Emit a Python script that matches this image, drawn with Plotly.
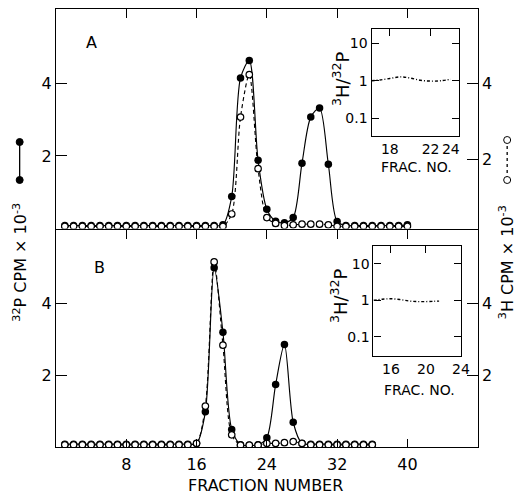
import plotly.graph_objects as go

W, H = 526, 496

# ---- data -------------------------------------------------------------
# Panel A: fractions 1..40
frac_a = list(range(1, 41))
p32_a = [0.08, 0.08, 0.08, 0.08, 0.08, 0.08, 0.08, 0.08, 0.08, 0.08,
         0.08, 0.08, 0.08, 0.08, 0.08, 0.08, 0.08, 0.08, 0.10, 0.88,
         4.15, 4.63, 1.88, 0.53, 0.20, 0.16, 0.30, 1.80, 3.07, 3.32,
         1.77, 0.19, 0.08, 0.08, 0.08, 0.08, 0.08, 0.08, 0.08, 0.10]
h3_a = [0.06, 0.06, 0.06, 0.06, 0.06, 0.06, 0.06, 0.06, 0.06, 0.06,
        0.06, 0.06, 0.06, 0.06, 0.06, 0.06, 0.06, 0.06, 0.06, 0.40,
        3.07, 4.24, 1.65, 0.30, 0.14, 0.08, 0.10, 0.12, 0.12, 0.12,
        0.10, 0.06, 0.06, 0.06, 0.06, 0.06, 0.06, 0.06, 0.06, 0.06]

# Panel B: fractions 1..36
frac_b = list(range(1, 37))
p32_b = [0.08, 0.08, 0.08, 0.08, 0.08, 0.08, 0.08, 0.08, 0.08, 0.08,
         0.08, 0.08, 0.08, 0.08, 0.08, 0.10, 0.98, 5.00, 3.20, 0.49,
         0.06, 0.05, 0.06, 0.26, 1.74, 2.86, 0.69, 0.10, 0.08, 0.08,
         0.08, 0.08, 0.08, 0.08, 0.08, 0.08]
h3_b = [0.06, 0.06, 0.06, 0.06, 0.06, 0.06, 0.06, 0.06, 0.06, 0.06,
        0.06, 0.06, 0.06, 0.06, 0.06, 0.10, 1.14, 5.16, 2.84, 0.34,
        0.05, 0.05, 0.05, 0.10, 0.10, 0.12, 0.15, 0.10, 0.06, 0.06,
        0.06, 0.06, 0.06, 0.06, 0.06, 0.06]

# Insets: 3H/32P ratio across the peak fractions
ratio_frac_a = [16.2, 17, 18, 19, 20, 21, 22, 23, 24]
ratio_a = [1.0, 1.05, 1.15, 1.27, 1.18, 1.03, 0.98, 1.0, 1.1]
ratio_frac_b = [14, 15, 16, 17, 18, 19, 20, 21, 21.5]
ratio_b = [1.0, 1.07, 1.1, 1.05, 0.96, 0.92, 0.92, 0.94, 0.95]

main_ticks = [8, 16, 24, 32, 40]
cpm_ticks = [2, 4]
inset_ticks_a = [18, 22, 24]
inset_ticks_b = [16, 20, 24]
ratio_ticks = [0.1, 1, 10]
ratio_labels = ["0.1", "1", "10"]

# ---- helpers ----------------------------------------------------------
def px(x):
    return x / W

def py(y):
    return 1 - y / H

FONT = "DejaVu Sans"
INK = "black"
LW = 1.3

fig = go.Figure()

def p32_trace(x, y, xa, ya):
    return go.Scatter(
        x=x, y=y, xaxis=xa, yaxis=ya, mode="lines+markers",
        line=dict(color=INK, width=1.15, shape="spline", smoothing=0.8),
        marker=dict(symbol="circle", size=7.5, color=INK),
        hoverinfo="skip", showlegend=False)

def h3_trace(x, y, xa, ya):
    return go.Scatter(
        x=x, y=y, xaxis=xa, yaxis=ya, mode="lines+markers",
        line=dict(color=INK, width=1.15, dash="4px,3px", shape="spline", smoothing=0.8),
        marker=dict(symbol="circle", size=6.5, color="white",
                    line=dict(color=INK, width=1.2)),
        hoverinfo="skip", showlegend=False)

def ratio_trace(x, y, xa, ya):
    return go.Scatter(
        x=x, y=y, xaxis=xa, yaxis=ya, mode="lines",
        line=dict(color=INK, width=1.4, dash="3px,2px,1px,2px", shape="spline"),
        hoverinfo="skip", showlegend=False)

def blank(xa, ya):
    return go.Scatter(x=[], y=[], xaxis=xa, yaxis=ya, showlegend=False,
                      hoverinfo="skip")

# panel A
fig.add_trace(p32_trace(frac_a, p32_a, "x", "y"))
fig.add_trace(h3_trace(frac_a, h3_a, "x", "y"))
fig.add_trace(blank("x2", "y2"))
# panel B
fig.add_trace(p32_trace(frac_b, p32_b, "x3", "y3"))
fig.add_trace(h3_trace(frac_b, h3_b, "x3", "y3"))
fig.add_trace(blank("x4", "y4"))
# insets
fig.add_trace(ratio_trace(ratio_frac_a, ratio_a, "x5", "y5"))
fig.add_trace(blank("x6", "y5"))
fig.add_trace(ratio_trace(ratio_frac_b, ratio_b, "x7", "y6"))
fig.add_trace(blank("x8", "y6"))

xdom = [px(57), px(486)]
ydom_a = [py(228.5), py(9)]
ydom_b = [py(447), py(230)]
tickfont = dict(family=FONT, size=16, color=INK)
small_font = dict(family=FONT, size=14, color=INK)

base_axis = dict(showgrid=False, zeroline=False, showline=True,
                 linecolor=INK, linewidth=LW, tickcolor=INK, tickwidth=LW,
                 fixedrange=True)

fig.update_layout(
    xaxis=dict(**base_axis, domain=xdom, range=[0, 48], anchor="y",
               tickvals=main_ticks, ticks="outside", ticklen=9,
               showticklabels=False),
    xaxis2=dict(**base_axis, overlaying="x", side="top", range=[0, 48],
                anchor="y", tickvals=main_ticks, ticks="inside", ticklen=9,
                showticklabels=False),
    yaxis=dict(**base_axis, domain=ydom_a, range=[0, 6.05], anchor="x",
               tickvals=cpm_ticks, ticks="inside", ticklen=11,
               tickfont=tickfont),
    yaxis2=dict(**base_axis, overlaying="y", side="right", range=[0.17, 5.95],
                anchor="x", tickvals=cpm_ticks, ticks="inside", ticklen=11,
                tickfont=tickfont),
    xaxis3=dict(**base_axis, domain=xdom, range=[0, 48], anchor="y3",
                tickvals=main_ticks, ticks="inside", ticklen=8,
                tickfont=tickfont, mirror=True, ticklabelstandoff=3),
    xaxis4=dict(**base_axis, overlaying="x3", side="top", range=[0, 48],
                anchor="y3", ticks="", showticklabels=False),
    yaxis3=dict(**base_axis, domain=ydom_b, range=[0, 6.05], anchor="x3",
                tickvals=cpm_ticks, ticks="inside", ticklen=11,
                tickfont=tickfont),
    yaxis4=dict(**base_axis, overlaying="y3", side="right", range=[0, 6.05],
                anchor="x3", tickvals=cpm_ticks, ticks="inside", ticklen=11,
                tickfont=tickfont),
    # inset A
    xaxis5=dict(**base_axis, domain=[px(378), px(467)], range=[16.2, 24.8],
                anchor="y5", tickvals=inset_ticks_a, ticks="",
                tickfont=small_font),
    xaxis6=dict(**base_axis, overlaying="x5", side="top", range=[16.2, 24.8],
                anchor="y5", tickvals=[18, 22], ticks="inside", ticklen=7,
                showticklabels=False),
    yaxis5=dict(**base_axis, type="log", domain=[py(136), py(28.5)],
                range=[-1.48, 1.4], anchor="x5", tickvals=ratio_ticks,
                ticktext=ratio_labels, ticks="inside", ticklen=7,
                mirror="ticks", tickfont=small_font),
    # inset B
    xaxis7=dict(**base_axis, domain=[px(380), px(469)], range=[14, 24],
                anchor="y6", tickvals=inset_ticks_b, ticks="",
                tickfont=small_font),
    xaxis8=dict(**base_axis, overlaying="x7", side="top", range=[14, 24],
                anchor="y6", tickvals=[16, 20], ticks="inside", ticklen=7,
                showticklabels=False),
    yaxis6=dict(**base_axis, type="log", domain=[py(356), py(246)],
                range=[-1.53, 1.49], anchor="x7", tickvals=ratio_ticks,
                ticktext=ratio_labels, ticks="inside", ticklen=7,
                mirror="ticks", tickfont=small_font),
    width=W, height=H, margin=dict(l=0, r=0, t=0, b=0),
    paper_bgcolor="white", plot_bgcolor="rgba(0,0,0,0)",
    font=dict(family=FONT, color=INK),
)

# ---- text -------------------------------------------------------------
def label(text, x, y, size, angle=0):
    fig.add_annotation(text=text, x=px(x), y=py(y), xref="paper", yref="paper",
                       showarrow=False, textangle=angle,
                       font=dict(family=FONT, size=size, color=INK),
                       xanchor="center", yanchor="middle")

label("A", 93, 42, 16)
label("B", 101, 267, 16)
label("FRACTION NUMBER", 270, 485, 16)
label("FRAC. NO.", 424, 167, 14)
label("FRAC. NO.", 427, 390, 14)
label("<sup>3</sup>H/<sup>32</sup>P", 347, 79, 18, -90)
label("<sup>3</sup>H/<sup>32</sup>P", 345, 296, 18, -90)
label("<sup>32</sup>P CPM × 10<sup>-3</sup>", 20, 262, 16, -90)
label("<sup>3</sup>H CPM × 10<sup>-3</sup>", 515, 262, 16, -90)

# ---- key glyphs beside the axis titles ----------------------------------
def key(xc, y_top, y_bot, filled):
    fig.add_shape(type="line", xref="paper", yref="paper",
                  x0=px(xc), x1=px(xc), y0=py(y_top), y1=py(y_bot),
                  line=dict(color=INK, width=1.3,
                            dash="solid" if filled else "3px,3px"))
    for yy in (y_top, y_bot):
        fig.add_shape(type="circle", xref="paper", yref="paper",
                      xsizemode="pixel", ysizemode="pixel",
                      xanchor=px(xc), yanchor=py(yy),
                      x0=-3.5, x1=3.5, y0=-3.5, y1=3.5,
                      fillcolor=INK if filled else "white",
                      line=dict(color=INK, width=1))

key(20, 142, 180, True)
key(516, 140, 180, False)

fig.write_html("out.html")
